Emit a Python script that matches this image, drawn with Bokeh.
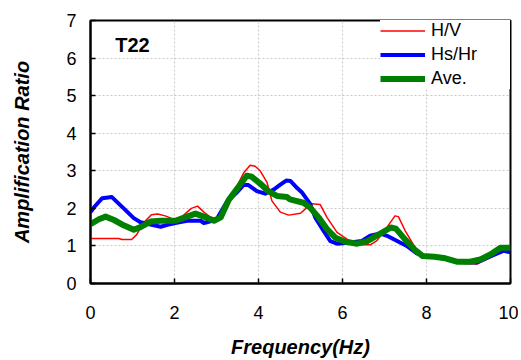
from bokeh.plotting import figure
from bokeh.models import Legend, LegendItem, Label, FixedTicker
from bokeh.embed import file_html
from bokeh.resources import INLINE

# H/V
hv_f = [0, 0.67, 0.75, 0.98, 1.1, 1.25, 1.45, 1.6, 1.78, 2.0, 2.2, 2.4, 2.55, 2.7, 2.85, 3.0,
        3.24, 3.48, 3.65, 3.8, 3.92, 4.04, 4.2, 4.32, 4.52, 4.72, 5.0, 5.15, 5.27, 5.47,
        5.63, 5.87, 6.15, 6.42, 6.66, 6.82, 7.06, 7.25, 7.33, 7.49, 7.61, 7.85, 8.24,
        8.56, 8.8, 9.2, 9.52, 9.8, 9.95, 10]
hv_v = [1.2, 1.2, 1.17, 1.17, 1.3, 1.6, 1.83, 1.85, 1.8, 1.7, 1.8, 2.0, 2.06, 1.9, 1.77, 1.72,
        2.17, 2.57, 2.95, 3.15, 3.12, 3.0, 2.7, 2.2, 1.9, 1.82, 1.87, 2.02, 2.12, 2.1,
        1.76, 1.36, 1.15, 1.03, 1.03, 1.14, 1.5, 1.8, 1.78, 1.41, 1.18, 0.73, 0.69,
        0.62, 0.54, 0.52, 0.69, 0.93, 0.87, 0.88]

# Hs/Hr
hs_f = [0, 0.1, 0.28, 0.51, 0.79, 1.03, 1.19, 1.43, 1.67, 1.83, 2.02, 2.3, 2.62, 2.7, 2.9,
        3.0, 3.24, 3.48, 3.64, 3.76, 3.96, 4.16, 4.36, 4.52, 4.66, 4.76, 4.92, 5.03, 5.23,
        5.35, 5.55, 5.71, 5.87, 6.18, 6.46, 6.66, 6.9, 7.06, 7.3, 7.53, 7.77, 7.93, 8.24,
        8.56, 8.8, 9.2, 9.52, 9.83, 10]
hs_v = [1.9, 2.05, 2.27, 2.3, 2.0, 1.74, 1.63, 1.57, 1.51, 1.56, 1.61, 1.67, 1.67, 1.61, 1.67,
        1.7, 2.16, 2.42, 2.62, 2.62, 2.46, 2.39, 2.5, 2.63, 2.74, 2.73, 2.54, 2.43, 2.12,
        1.76, 1.4, 1.13, 1.06, 1.09, 1.13, 1.27, 1.33, 1.27, 1.13, 1.0, 0.8, 0.73, 0.7,
        0.63, 0.57, 0.56, 0.72, 0.87, 0.83]

# Ave.
av_f = [0, 0.2, 0.36, 0.56, 0.79, 1.03, 1.19, 1.43, 1.67, 2.02, 2.3, 2.5, 2.7, 2.94, 3.1,
        3.29, 3.48, 3.72, 3.84, 4.04, 4.24, 4.44, 4.68, 4.75, 5.07, 5.23, 5.43, 5.63, 5.83,
        6.07, 6.35, 6.59, 6.87, 7.15, 7.27, 7.47, 7.71, 7.91, 8.19, 8.45, 8.72, 9.04, 9.28,
        9.52, 9.76, 10]
av_v = [1.58, 1.71, 1.78, 1.69, 1.55, 1.43, 1.5, 1.65, 1.67, 1.67, 1.78, 1.86, 1.78, 1.67, 1.76,
        2.22, 2.51, 2.87, 2.84, 2.66, 2.45, 2.33, 2.3, 2.24, 2.15, 2.02, 1.76, 1.45, 1.22,
        1.11, 1.06, 1.13, 1.31, 1.49, 1.46, 1.2, 0.91, 0.73, 0.71, 0.67, 0.58, 0.58, 0.64,
        0.77, 0.95, 0.95]

x_ticks = [0, 2, 4, 6, 8, 10]
y_ticks = [0, 1, 2, 3, 4, 5, 6, 7]
site_label = "T22"

FONT = "Liberation Sans"

p = figure(width=518, height=360, x_range=(0, 10), y_range=(0, 7),
           output_backend="svg", toolbar_location=None,
           min_border_left=90, min_border_right=8, min_border_top=20, min_border_bottom=77)

p.outline_line_color = "black"
p.outline_line_width = 2
p.background_fill_color = "white"
p.border_fill_color = "white"

for ax in (p.xaxis[0], p.yaxis[0]):
    ax.axis_line_color = "black"
    ax.axis_line_width = 2
    ax.major_tick_in = 5
    ax.major_tick_out = 0
    ax.major_tick_line_color = "black"
    ax.major_tick_line_width = 1.5
    ax.minor_tick_line_color = None
    ax.major_label_text_font = FONT
    ax.major_label_text_font_size = "18px"
    ax.major_label_text_color = "black"
    ax.axis_label_text_font = FONT
    ax.axis_label_text_font_size = "20px"
    ax.axis_label_text_font_style = "bold italic"
    ax.axis_label_text_color = "black"

p.xaxis.ticker = FixedTicker(ticks=x_ticks)
p.yaxis.ticker = FixedTicker(ticks=y_ticks)
p.xaxis.axis_label = "Frequency(Hz)"
p.yaxis.axis_label = "Amplification Ratio"
p.xaxis.major_label_standoff = 22
p.xaxis.axis_label_standoff = 14
p.yaxis.major_label_standoff = 14
p.yaxis.axis_label_standoff = 30

for g in (p.xgrid[0], p.ygrid[0]):
    g.grid_line_color = "#c8c8c8"
    g.grid_line_dash = "2 2"
    g.grid_line_width = 1

r_hv = p.line(hv_f, hv_v, line_color="#ff0000", line_width=1.5, line_join="round")
r_hs = p.line(hs_f, hs_v, line_color="#0000ff", line_width=4, line_join="round")
r_av = p.line(av_f, av_v, line_color="#008000", line_width=6, line_join="round")

legend = Legend(items=[LegendItem(label="H/V", renderers=[r_hv]),
                       LegendItem(label="Hs/Hr", renderers=[r_hs]),
                       LegendItem(label="Ave.", renderers=[r_av])],
                location="top_right", margin=0, padding=9, spacing=3,
                glyph_width=45, glyph_height=21, label_height=21, label_width=79,
                label_standoff=6, border_line_color=None,
                background_fill_color="white", background_fill_alpha=1.0,
                label_text_font=FONT, label_text_font_size="18px", label_text_color="black")
p.add_layout(legend)

p.add_layout(Label(x=0.59, y=6.34, text=site_label, text_font=FONT, text_font_size="20px",
                   text_font_style="bold", text_baseline="middle", text_color="black"))

open("out.html", "w").write(file_html(p, INLINE))
